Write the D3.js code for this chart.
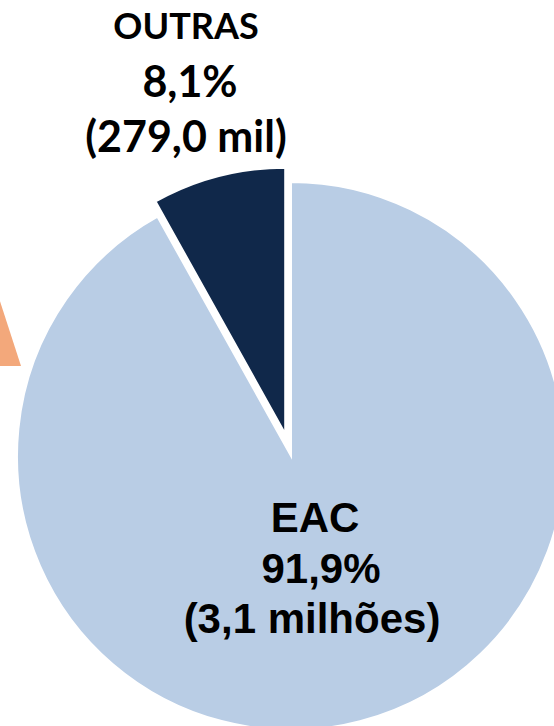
<!DOCTYPE html>
<html>
<head>
<meta charset="utf-8">
<script src="https://cdn.jsdelivr.net/npm/d3@7"></script>
<style>
  html, body { margin: 0; padding: 0; background: #fff; }
  svg { display: block; }
</style>
</head>
<body>
<div id="vis"></div>
<script>
// slices of the pie, in drawing order (clockwise from 12 o'clock)
const categories = ["EAC", "OUTRAS"];
const shares = [91.9, 8.1];
const amounts = ["(3,1 milhões)", "(279,0 mil)"];

// neighbouring pie, only the tip of its first slice shows at the left edge
const neighbourShares = [20, 80];

const width = 554;
const height = 726;
const sliceColours = ["#b9cde5", "#10284a"];
const neighbourColour = "#f3a87b";

const svg = d3.select("#vis")
  .append("svg")
  .attr("width", width)
  .attr("height", height);

const data = categories.map((c, i) => ({ category: c, share: shares[i], amount: amounts[i] }));

const pie = d3.pie()
  .sort(null)
  .value(d => d.share);

const arcs = pie(data);

const center = [291, 456];
const radius = [274, 266];
const explode = [0, 23];

function offset(d, i) {
  const mid = (d.startAngle + d.endAngle) / 2;
  return [Math.sin(mid) * explode[i], -Math.cos(mid) * explode[i]];
}

const chart = svg.append("g")
  .attr("transform", `translate(${center})`);

chart.selectAll("path.slice")
  .data(arcs)
  .join("path")
  .attr("class", "slice")
  .attr("d", (d, i) => d3.arc().innerRadius(0).outerRadius(radius[i])(d))
  .attr("transform", (d, i) => `translate(${offset(d, i)})`)
  .attr("fill", (d, i) => sliceColours[i])
  .attr("stroke", "#fff")
  .attr("stroke-width", 2);

// Tip of the neighbouring pie
const neighbourArcs = d3.pie().sort(null).startAngle(-Math.PI / 2)(neighbourShares);
svg.append("path")
  .attr("transform", "translate(21,366)")
  .attr("d", d3.arc().innerRadius(0).outerRadius(120)(neighbourArcs[0]))
  .attr("fill", neighbourColour);

// Labels
const labelStyle = [
  { x: 24, dx: [0, 6, -3], y: 76, steps: [0, 51, 101],
    font: "'Liberation Sans', Arial, sans-serif", sizes: [42, 42, 42] },
  { x: -105, dx: [0, 4, 0], y: -417, steps: [0, 58, 113],
    font: "Lato, 'Open Sans', sans-serif", sizes: [36, 43, 43] }
];

const labels = chart.selectAll("text.label")
  .data(arcs)
  .join("text")
  .attr("class", "label")
  .attr("text-anchor", "middle")
  .attr("font-weight", "bold")
  .attr("fill", "#000")
  .attr("font-family", (d, i) => labelStyle[i].font);

labels.each(function(d, i) {
  const s = labelStyle[i];
  const lines = [d.data.category, d3.format(".1f")(d.data.share).replace(".", ",") + "%", d.data.amount];
  d3.select(this).selectAll("tspan")
    .data(lines)
    .join("tspan")
    .attr("x", (l, j) => s.x + s.dx[j])
    .attr("y", (l, j) => s.y + s.steps[j])
    .attr("font-size", (l, j) => s.sizes[j])
    .text(l => l);
});
</script>
</body>
</html>
